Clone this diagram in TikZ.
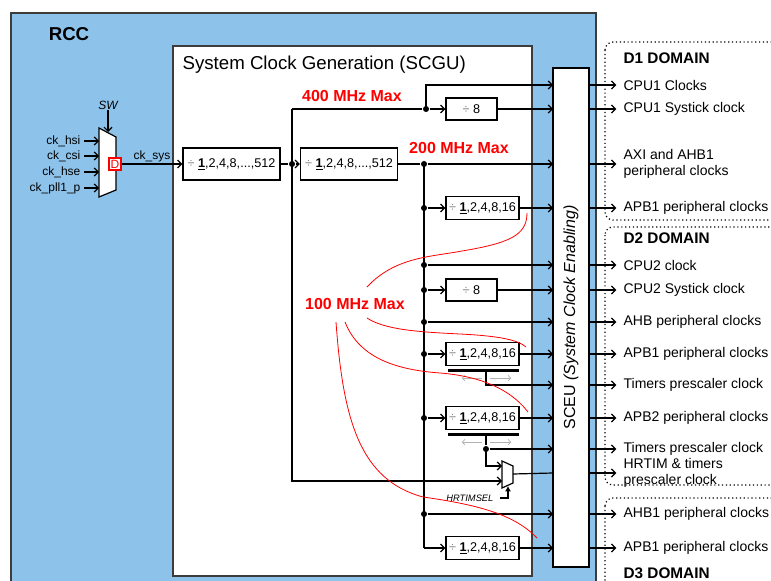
\documentclass[tikz,border=0pt]{standalone}
\usepackage{fontspec}
\setmainfont{Liberation Sans}
\usetikzlibrary{arrows.meta}
\definecolor{rccblue}{RGB}{141,195,235}
\definecolor{edge}{RGB}{60,60,60}
\newcommand{\dv}{{\color{gray}÷}~}
\newcommand{\bone}{\underline{\textbf{1}}}
\tikzset{
  arr/.style={-{Straight Barb[length=3pt,width=6pt]}},
  blk/.style={draw, fill=white, inner sep=0pt, font=\fontsize{9.5}{11}\selectfont},
  div16/.style={blk, minimum width=54.75pt, minimum height=17.25pt},
  div8/.style={blk, minimum width=38.25pt, minimum height=16.5pt},
  div512/.style={blk, minimum width=72.75pt, minimum height=24pt},
  dot/.style={circle, fill, inner sep=1.6pt},
  outlbl/.style={anchor=west, inner sep=0pt, align=left, font=\fontsize{10.5}{12.5}\selectfont},
  dom/.style={anchor=west, inner sep=0pt, font=\fontsize{11.5}{13}\selectfont\bfseries},
  maxmhz/.style={text=red, inner sep=0pt, font=\fontsize{12}{14}\selectfont\bfseries},
  ck/.style={anchor=east, inner sep=0pt, font=\fontsize{9}{11}\selectfont},
  limit/.style={red, line width=0.6pt},
}
\begin{document}
\begin{tikzpicture}[x=0.75pt, y=-0.75pt, line width=0.9pt]
    \useasboundingbox (0,0) rectangle (771,581);
    \clip (0,0) rectangle (771,581);
    \draw[fill=rccblue, draw=edge] (11,13) rectangle (596,600);
    \node[font=\fontsize{14}{16}\selectfont\bfseries] (rcc) at (69,34) {RCC};
    \draw[fill=white, draw=edge, line width=1.2pt] (173,46) rectangle (532,576);
    \node[anchor=west, inner sep=0pt, font=\fontsize{14}{16}\selectfont] (scgu) at (182,65) {System Clock Generation (SCGU)};
    \node[draw, fill=white, minimum width=27pt, minimum height=374.25pt, inner sep=0pt] (sceu) at (571,317.5) {};
    \node[rotate=90, font=\fontsize{12}{14}\selectfont] (sceut) at (sceu.center) {SCEU \textit{(System Clock Enabling)}};

    \draw[dotted, rounded corners=6pt] (605,42) rectangle (800,220);
    \draw[dotted, rounded corners=6pt] (605,227) rectangle (800,485);
    \draw[dotted, rounded corners=6pt] (605,498) rectangle (800,620);
    \node[dom] (d1) at (623,58) {D1 DOMAIN};
    \node[dom] (d2) at (623,238) {D2 DOMAIN};
    \node[dom] (d3) at (623,573) {D3 DOMAIN};

    \foreach \r/\y/\t in {1/85/CPU1 Clocks, 2/109/CPU1 Systick clock,
        3/164/{AXI and AHB1\\peripheral clocks}, 4/208/APB1 peripheral clocks,
        5/265/CPU2 clock, 6/290/CPU2 Systick clock, 7/322/AHB peripheral clocks,
        8/354/APB1 peripheral clocks, 9/385/Timers prescaler clock,
        10/418/APB2 peripheral clocks, 11/449/Timers prescaler clock,
        12/473/{HRTIM \& timers\\prescaler clock}, 13/514/AHB1 peripheral clocks,
        14/548/APB1 peripheral clocks} {
      \coordinate (i\r) at (553,\y);
      \coordinate (o\r) at (589,\y);
      \node[outlbl] (t\r) at (623,\y) {\t};
      \draw[arr, shorten >=5pt] (o\r) -- (o\r -| t\r.west);
    }

    \draw[fill=white] (99,128) -- (116,137) -- (116,190) -- (99,197) -- cycle;
    \node[font=\fontsize{9}{11}\selectfont\itshape, inner sep=0pt] (sw) at (108,105) {SW};
    \coordinate (swsel) at (108,132);
    \draw[arr] (sw) -- (swsel);
    \foreach \y/\n in {141/ck\_hsi, 156/ck\_csi, 172/ck\_hse, 188/ck\_pll1\_p} {
      \node[ck] (in\y) at (81,\y) {\n};
      \coordinate (cs\y) at (84,\y);
      \coordinate (mx\y) at (99,\y);
      \draw[arr] (cs\y) -- (mx\y);
    }
    \node[draw=red, line width=1pt, fill=white, text=red, font=\fontsize{9}{10}\selectfont,
      inner sep=0pt, minimum size=9pt] (dsel) at (115,164) {D};
    \node[div512] (pre1) at (231.5,164) {\dv\bone,2,4,8,...,512};
    \draw[arr] (dsel) -- (pre1) node[pos=.5, above=1pt, inner sep=0pt, font=\fontsize{9}{11}\selectfont] {ck\_sys};

    \node[dot] (j1) at (292,164) {};
    \node[div512] (pre2) at (349,164) {\dv\bone,2,4,8,...,512};
    \draw (pre1) -- (j1);
    \draw[arr] (j1) -- (pre2);
    \coordinate (c400) at (292,109);
    \coordinate (hin1) at (502,466);
    \coordinate (hin2) at (502,481);
    \coordinate (hout) at (513,474);
    \coordinate (hsel) at (508,486);
    \draw[arr] (c400) |- (hin2);

    \node[dot] (j2) at (426,109) {};
    \node[div8] (e8a) at (471.5,109) {\dv 8};
    \draw (c400) -- (j2);
    \draw[arr] (j2) -- (e8a);
    \draw[arr] (e8a) -- (i2);
    \draw[arr] (j2.center) |- (i1);

    \node[dot] (b0) at (424,164) {};
    \draw (pre2) -- (b0);
    \draw[arr] (b0) -- (i3);
    \foreach \r in {4,5,6,7,8,10,13}
      \node[dot] (b\r) at (b0 |- i\r) {};
    \node[div16] (q1) at (482.5,208) {\dv\bone,2,4,8,16};
    \node[div8] (e8b) at (471.5,290) {\dv 8};
    \node[div16] (q2) at (482.5,354) {\dv\bone,2,4,8,16};
    \node[div16] (q3) at (482.5,418) {\dv\bone,2,4,8,16};
    \node[div16] (q4) at (482.5,548) {\dv\bone,2,4,8,16};
    \draw (b0.center) -- (b0 |- q4);
    \draw[arr] (b0 |- q4) -- (q4);
    \draw[arr] (b4) -- (q1);
    \draw[arr] (q1) -- (i4);
    \draw[arr] (b5) -- (i5);
    \draw[arr] (b6) -- (e8b);
    \draw[arr] (e8b) -- (i6);
    \draw[arr] (b7) -- (i7);
    \draw[arr] (b8) -- (q2);
    \draw[arr] (q2) -- (i8);
    \draw[arr] (b10) -- (q3);
    \draw[arr] (q3) -- (i10);
    \draw[arr] (b13) -- (i13);
    \draw[arr] (q4) -- (i14);

    \foreach \q in {q2,q3} {
      \draw[line width=2.4pt] ([shift={(2.25pt,-3.5pt)}]\q.south west) -- ([shift={(-0.75pt,-3.5pt)}]\q.south east);
      \draw[gray!60, line width=0.5pt, -{Straight Barb[length=2pt,width=4pt]}] ([shift={(-0.5pt,-9pt)}]\q.south) -- ++(-15pt,0);
      \draw[gray!60, line width=0.5pt, -{Straight Barb[length=2pt,width=4pt]}] ([shift={(5.5pt,-9pt)}]\q.south) -- ++(16pt,0);
      \coordinate (tap\q) at ([shift={(2.6pt,-3.5pt)}]\q.south);
    }
    \draw[arr] (tapq2) |- (i9);
    \node[dot] (k3) at (tapq3 |- i11) {};
    \draw (tapq3) -- (k3);
    \draw[arr] (k3) -- (i11);
    \draw[arr] (k3.center) |- (hin1);

    \draw[fill=white] (502,461) -- (513,466) -- (513,483) -- (502,488) -- cycle;
    \draw (hout) -- (i12);
    \node[anchor=east, inner sep=0pt, font=\fontsize{7}{8}\selectfont\itshape] (hsl) at (494,498) {HRTIMSEL};
    \coordinate (hs0) at (500,498);
    \draw[-{Latex[length=4pt,width=4.5pt]}] (hs0) -| (hsel);

    \node[maxmhz] (m400) at (352,96) {400 MHz Max};
    \node[maxmhz] (m200) at (459,148) {200 MHz Max};
    \node[maxmhz] (m100) at (355,304) {100 MHz Max};
    \draw[limit] (367,287) .. controls (395,257) and (430,257) .. (462,251) .. controls (510,243) and (527,235) .. (527,213);
    \draw[limit] (367,318) .. controls (385,330) and (420,332) .. (460,334) .. controls (500,336) and (518,340) .. (526,347);
    \draw[limit] (345,322) .. controls (360,360) and (400,370) .. (440,373) .. controls (490,377) and (515,395) .. (528,412);
    \draw[limit] (336,322) .. controls (343,420) and (360,480) .. (423,497) .. controls (480,505) and (515,515) .. (537,538);
\end{tikzpicture}
\end{document}
